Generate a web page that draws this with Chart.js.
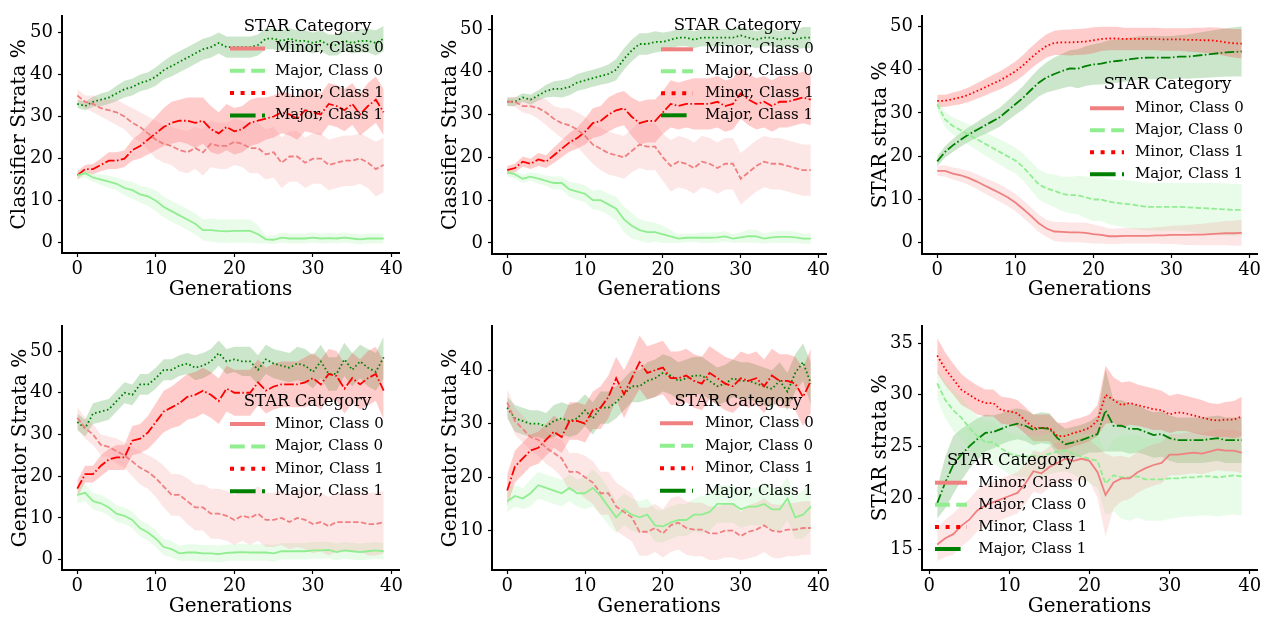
<!DOCTYPE html>
<html><head><meta charset="utf-8">
<script src="https://cdn.jsdelivr.net/npm/chart.js@4.4.1/dist/chart.umd.min.js"></script>
<style>
html,body{margin:0;padding:0;background:#fff;}
#wrap{position:relative;width:1268px;height:620px;overflow:hidden;background:#fff;}
canvas{position:absolute;}
</style></head><body><div id="wrap"></div>
<script>
// ---------- shared categories / labels ----------
const gens = [0,1,2,3,4,5,6,7,8,9,10,11,12,13,14,15,16,17,18,19,20,21,22,23,24,25,26,27,28,29,30,31,32,33,34,35,36,37,38,39];
const gensFrom1 = [1,2,3,4,5,6,7,8,9,10,11,12,13,14,15,16,17,18,19,20,21,22,23,24,25,26,27,28,29,30,31,32,33,34,35,36,37,38,39];
const xTicks = [0,10,20,30,40];
const yTicksPct = [0,10,20,30,40,50];
const yTicksGenB = [10,20,30,40];
const yTicksStarB = [15,20,25,30,35];
const xTitle = 'Generations';
const legendTitle = 'STAR Category';
const seriesNames = ['Minor, Class 0','Major, Class 0','Minor, Class 1','Major, Class 1'];

// ---------- Panel 1 : Classifier (top-left) ----------
const p1MinorC0 = [35,33.5,33,32,31.5,31,30,28.5,27.5,26,24.5,23.5,23,22,21.5,22.5,21.5,23.5,23,23,24,23.5,22.5,22.5,21,21.5,19,20.5,20.5,19,20,20,18.5,19,19.5,19.5,20,19,17.5,18.5];
const p1MinorC0Err = [1.5,1.5,2,2,2.5,3,3,3.5,3.5,4,4.5,4.5,4.5,5,5,5,5.5,5.5,5.5,5.5,5.5,5.5,6,6,6,6,6,6,6,6,6,6,6,6,6,6,6,6,6.5,6.5];
const p1MajorC0 = [16,16.5,15.5,15,14.5,14,13,12.5,11.5,11,10,8.5,7.5,6.5,5.5,4.5,3,3,2.8,2.7,2.8,2.8,2.8,2,0.8,0.7,1.2,1,1,1,1.2,1,1.1,1,1.2,1,0.8,1,1,1];
const p1MajorC0Err = [1,1,1,1.2,1.5,1.5,1.8,2,2,2.2,2.5,2.5,2.5,2.5,2.5,2.5,2.5,2.8,2.8,2.8,2.8,2.8,2.8,2.2,1,1,1.2,1.2,1.2,1.2,1.2,1.2,1.2,1.2,1.2,1.2,1.2,1.2,1.2,1.2];
const p1MinorC1 = [16,17.5,17.5,18.5,19.5,19.5,20,22,23,24.5,26,27.5,28.5,29,29,28.5,29,27,26,27.5,26.5,27,28.5,29,29.5,30,31,30.5,29.5,31.5,31,30.5,33,32.5,31.5,33,30.5,32.5,34,31];
const p1MinorC1Err = [1,1,1.2,1.5,2,2,2,2.5,3,3.5,4,4.5,5,5,5.5,6,5.5,5.5,5,5.5,5.5,5.5,5.5,5.5,5,5,5,5,5,5,5,5,5,5,5,5,5,5.5,5.5,5.5];
const p1MajorC1 = [33,32.5,33.5,34,34.5,35.5,36.5,37,38,38.5,39.5,41,42,43,44,45,46,46.5,47.5,46.5,46.5,46.5,46.5,47,48.5,48.5,48,48.5,48,48,47.5,48,47,47,48,47.5,48,48,47.5,48.5];
const p1MajorC1Err = [1,1,1.2,1.5,1.5,1.8,2,2,2,2,2.2,2.2,2.5,2.5,2.5,2.5,2.5,2.5,2.5,2.5,2.5,2.5,2.5,2.5,2.5,2.5,2.5,2.5,2.5,2.5,2.5,2.5,2.5,2.5,2.5,2.5,2.8,2.8,3,3];

// ---------- Panel 2 : Classifier (top-middle) ----------
const p2MinorC0 = [33,33,32,32,31.5,30.5,29,28,27.5,26.5,25,23,22,21,20.5,20,21.5,23,22.5,22.5,20,18,19,18.5,17.5,19,18.5,17.5,18.5,18.5,15,16.5,18,19,18.5,18.5,18,17.5,17,17];
const p2MinorC0Err = [1,1.2,1.5,2,2.5,3,3,3.5,4,4,4.5,4.5,5,5,5,5,5,5.5,5.5,5.5,5.5,6,6,6,6,6,6,6,6,6,6,6,6,6,6,6,6,6,6,6];
const p2MajorC0 = [16.5,16,15,15.5,15,14.5,14,14,12.5,12,11.5,10,10,9,8,5.5,4,3,2.5,2.5,2,1.5,1,1.2,1.2,1.2,1.2,1.3,1.5,1,1.3,1.6,1.5,1,1.3,1.4,1.4,1.3,1,1];
const p2MajorC0Err = [1,1,1,1,1.2,1.2,1.5,1.5,1.8,2,2,2.2,2.5,2.5,2.8,3,3,2.5,2.5,2.2,2,1.5,1,1,1,1.2,1.2,1.2,1.2,1,1.2,1.5,1.5,1.2,1.3,1.4,1.4,1.3,1.2,1.2];
const p2MinorC1 = [17,17.5,19,18.5,19.5,19,20.5,22,23.5,24.5,26,28,28.5,30,31,31.5,29.5,28,28.5,28.5,30.5,32.5,32,32.5,32.5,32.5,32.5,33,32,32.5,35,33.5,32.5,33,32,33,33,33.5,34,33.5];
const p2MinorC1Err = [1,1,1.2,1.2,1.5,1.5,1.8,2,2.2,2.5,3,3.5,3.5,4,4,4,4.5,5,5,5,5,5.5,5.5,5.5,6,6,6,6,6,6,6,6,6,6,6,6,6,6,6,6];
const p2MajorC1 = [33,33,34,33.5,34.5,35.5,36,36,36.5,37.5,38,38.5,39,39.5,40.5,43,45,46.5,46.5,47,47,47.5,48,48,47.5,48,48,48,48,48,48.5,48,47.5,48,48,47.5,48,47.5,48,48];
const p2MajorC1Err = [1,1,1,1.2,1.2,1.5,1.8,2,2,2,2,2,2,2.2,2.5,2.5,2.5,2.5,2.5,2.5,2.2,2,2,2,2,2,2,2,2,2,2,2,2,2,2,2,2,2.2,2.5,2.5];

// ---------- Panel 3 : STAR strata (top-right) ----------
const p3MinorC0 = [16.6,16.6,16,15.6,15,14.2,13.3,12.4,11.5,10.5,9.3,7.8,6.2,4.5,3.3,2.6,2.5,2.4,2.4,2.3,2,1.8,1.5,1.5,1.6,1.6,1.6,1.6,1.7,1.7,1.8,1.8,1.8,1.9,1.9,2,2.1,2.2,2.2,2.3];
const p3MinorC0Err = [1.2,1.3,1.4,1.5,1.6,1.7,1.8,1.9,2,2,2,2,2,2,2,2.2,2.3,2.3,2.3,2.3,2.2,2,1.8,1.8,1.8,1.8,1.8,1.8,1.9,2,2.1,2.2,2.3,2.4,2.5,2.6,2.7,2.8,2.9,3];
const p3MajorC0 = [32,28.5,27,26,25,24,23,22,21,20,19,17.5,15.5,13.5,12.5,12,11.3,11,11,10.5,10,10,9.5,9.2,9,8.8,8.5,8.3,8.3,8.3,8.3,8.3,8.2,8.1,8,7.9,7.8,7.7,7.6,7.6];
const p3MajorC0Err = [1.5,1.8,2,2.2,2.4,2.5,2.7,2.8,3,3,3,3.2,3.3,3.5,3.5,3.8,4,4.2,4.5,4.8,5,5,5.2,5.3,5.5,5.5,5.5,5.5,5.5,5.5,5.5,5.5,5.6,5.7,5.8,5.9,6,6,6,6];
const p3MinorC1 = [32.8,32.8,33.2,33.6,34.2,35,35.8,36.7,37.5,38.5,39.6,41,42.7,44.2,45.5,46.2,46.3,46.3,46.4,46.5,46.8,47.1,47.2,47.2,47.1,47.1,47.1,47.1,47.1,47,47,47,46.9,46.9,46.8,46.8,46.6,46.3,46.1,46];
const p3MinorC1Err = [1.4,1.4,1.5,1.6,1.7,1.8,1.9,2,2.1,2.2,2.3,2.4,2.5,2.6,2.7,2.8,2.9,3,3,3,3,2.8,2.7,2.7,2.6,2.6,2.6,2.6,2.6,2.6,2.6,2.6,2.7,2.8,2.9,3,3.1,3.2,3.3,3.4];
const p3MajorC1 = [18.8,21,22.5,23.8,25,26,27,28,29,30.5,32,33.5,35.3,37,38.2,39,39.7,40.3,40.2,40.8,41.2,41.4,41.8,42,42.2,42.5,42.7,42.8,42.8,42.8,42.8,43,43,43.2,43.4,43.6,43.8,44,44.1,44.2];
const p3MajorC1Err = [1.2,1.3,1.5,1.6,1.7,1.8,2,2.1,2.2,2.3,2.5,2.7,3,3.2,3.5,3.8,4,4.2,4.5,4.6,4.7,4.8,5,5,5,5,5,5,5,5,5,5,5.1,5.2,5.3,5.4,5.5,5.6,5.7,5.8];

// ---------- Panel 4 : Generator (bottom-left) ----------
const p4MinorC0 = [34,31.5,30,27.5,27,26,25,23.5,22,21,19.5,17.5,15.5,15.5,14,12.5,12.5,11,11,10.5,9.5,10.5,10,11,9.5,9.5,10,9,10,9.5,8.5,9,8,9,9,9,9,8.5,8.5,9];
const p4MinorC0Err = [2.5,2.5,2.5,2.5,2.5,3,3,3.5,4,4,4.5,5,5,5,5.5,5.5,5.5,6,6,6,6,6,6.5,6.5,6.5,6.5,6.5,6.5,7,7,7,7,7,7,7,7,7,7.5,7.5,7.5];
const p4MajorC0 = [15.5,16,14,13.5,12.5,11,10.5,9.5,7.5,6.5,5,3,2.5,1.5,1.7,1.7,1.5,1.5,1.3,1.6,1.7,1.8,1.7,1.7,1.7,1.5,2,2,2,2,2.2,2.2,2.3,1.8,2.2,2,1.8,2,2.2,2];
const p4MajorC0Err = [2,2,2,2,2,2,2,2,2,2,2,2,2,1.8,2,2,2,2,2,2,2,2,2,2,2,2,2,2,2,2,2,2,2,2,2,2,2,2,2,2];
const p4MinorC1 = [17,20.5,20.5,22.5,24,24.5,24.5,28.5,29,30.5,33,35.5,36.5,37.5,39,39.5,40.5,39.5,38,41,40,40,40,42.5,40.5,41.5,42,42,42,42.5,43.5,42,44.5,44,41,43.5,42,43.5,44.5,40.5];
const p4MinorC1Err = [2,2,2,2.5,2.5,3,3,3.5,3.5,4,4.5,5,5,5.5,5.5,5.5,5.5,5.5,5.5,5.5,5.5,5.5,5.5,5.5,5.5,5.5,5.5,5.5,5.5,6,6,6,6,6,6,6,6,6.5,6.5,7];
const p4MajorC1 = [33,31.5,35,35.5,36,38,40,39.5,42,42,43.5,45.5,45.5,46.5,47,46,46.5,47.5,49.5,47.5,48,47.5,47.5,45.5,48,47,46.5,46,47,46.5,45,47.5,44.5,44.5,48,45.5,47.5,46,45,48.5];
const p4MajorC1Err = [2,2,2.5,2.5,2.5,2.5,2.5,2.5,2.5,2.5,2.5,2.5,2.5,2.5,2.5,3,3,3,3,3,3,3.5,3.5,3.5,3.5,3.5,3.5,3.5,4,4,4,4,4,4,4,4,4,4.5,4.5,5];

// ---------- Panel 5 : Generator (bottom-middle) ----------
const p5MinorC0 = [34,30.5,29,27.5,27,25.5,24.5,23.5,21,21,20,19,17,17,14.5,13.5,12.5,9.8,9.8,10.5,9.5,11,11.5,10.5,10.2,10.2,9.5,9.5,10,10,9,9.8,10.2,11,10,9.8,10.2,10.2,10.5,10.5];
const p5MinorC0Err = [2.5,2.5,2.5,2.5,3,3,3,3.5,3.5,3.5,4,4,4,4,4.5,4.5,4.5,4.5,4.5,4.5,4.5,5,5,5,5,5,5,5,5,5,4.5,5,5,5,5,5,5,5,5,5];
const p5MajorC0 = [15.5,16.5,16,17,18.5,18,17.5,17,18,17,17,18,16.5,14.5,12.5,14,13,12.5,13,11,10.8,11.5,12,12,13,13,13.5,15,15,15,14,14.5,14.5,15,14,14,16,12.5,13,14.5];
const p5MajorC0Err = [2,2,2,2.5,2.5,2.5,2.5,2.5,2.5,2.5,3,3.5,3.5,3.5,3,3,3,3,3,3,3,3,3,3,3,3.5,3.5,3.5,3.5,3.5,3.5,3.5,3.5,4,4,4,4,4,4.5,4.5];
const p5MinorC1 = [17.5,22,23.5,25,25.5,27,28.5,27.5,30.5,30.5,30,32.5,33,35,38.5,35.5,38.5,41.5,39.5,40,40.5,38.5,38.5,39,38,37.5,39.5,38.5,37.5,37,38.5,38,38.5,37,39,38,38,37.5,35,38];
const p5MinorC1Err = [3,3,3,3,3,3,3,3,3.5,3.5,3.5,3.5,4,4,4,4.5,4.5,5,5,5,5,5,5,5,5,5,5,5,5,5,5,5,5,5,5,5,5,5,5.5,6];
const p5MajorC1 = [33,31,30.5,30,30,29.5,30.5,31,30.5,31,32.5,31,33,33,34,35.5,37,37,38,38.5,39.5,39,38,38.5,39,39,38,37,37.5,38.5,38,38,37.5,37,36.5,38,36,39.5,41.5,37.5];
const p5MajorC1Err = [2,2.5,2.5,2.5,2.5,2.5,3,3,3,3,3,3,3,3,3,3,3,3,3.5,3.5,3.5,3.5,3.5,3.5,3.5,3.5,3.5,3.5,3.5,3.5,3.5,3.5,3.5,3.5,3.5,3.5,3.5,3.5,3.5,4];

// ---------- Panel 6 : STAR strata (bottom-right), generations 1..39 ----------
const p6MinorC0 = [15.5,16.1,16.5,17.3,17.9,18.8,19.3,19.6,19.9,20.2,20.5,21.4,22.6,22.4,23,23.4,23.8,23.6,23.8,23.6,22.5,20.3,21.5,21.9,21.9,22.5,22.9,23.2,23.4,24.2,24.2,24.3,24.4,24.3,24.5,24.7,24.6,24.6,24.4];
const p6MinorC0Err = [1.6,1.8,2,2,2,2,2,2,2,2,2,2,2,2,2,2,2,2,2,2,2.5,4,2.5,2.2,2,2,2,2,2,2,2,2,2,2,2,2,2,2,2];
const p6MajorC0 = [31.1,29.5,28.5,27.8,26.8,26,25.4,25.4,24.8,24.3,24.1,24,24.1,24,24.3,24.5,24.6,24.3,24,23.8,23.6,21.4,22.2,22,22,22.1,21.8,21.8,21.8,21.9,21.9,22,22,22.1,22.1,22,22.1,22.2,22.1];
const p6MajorC0Err = [1.5,1.8,2,2,2,2,2,2,2,2,2,2,2,2,2,2,2,2,2.2,2.4,2.6,3,3.5,4,4.2,4,4,4,4,3.9,3.8,3.8,3.8,3.8,3.8,3.8,3.8,3.8,3.8];
const p6MinorC1 = [33.8,32.5,31.5,30.5,30,29.5,29.2,29.2,28.5,28.4,28.2,27.5,26.8,26.8,26.8,26,26,26.3,26.5,26.8,27.5,30,29.5,29,29.2,29,28.8,28.6,28.5,28.1,28.3,28.2,28,27.8,27.6,27.5,27.6,27.6,27.9];
const p6MinorC1Err = [1.7,1.6,1.5,1.5,1.4,1.4,1.3,1.3,1.3,1.3,1.3,1.3,1.3,1.3,1.3,1.3,1.3,1.3,1.3,1.3,1.5,2.8,2.2,2.2,2.1,2,2,2,1.9,1.8,1.8,1.7,1.7,1.7,1.6,1.6,1.7,1.8,1.9];
const p6MajorC1 = [19.5,21.5,23.2,24.2,25,25.7,26.3,26.4,26.7,27,27.2,27,26.6,26.8,26.7,25.8,25.2,25.4,25.6,25.9,26.2,28.5,27,27,26.7,26.7,26.4,26.1,26.2,25.8,25.6,25.6,25.6,25.6,25.7,25.8,25.6,25.6,25.6];
const p6MajorC1Err = [1.5,2.5,2.8,2.5,2.2,2,1.8,1.6,1.5,1.5,1.5,1.5,1.5,1.5,1.5,1.5,1.5,1.5,1.5,1.5,1.8,4,2.5,2.5,2.4,2.3,2.2,2.2,2.2,2.2,2.2,2.2,2.2,2.2,2.2,2.2,2.2,2.2,2.2];

// ---------- styles ----------
const FONT = '"DejaVu Serif", "Liberation Serif", serif';
const lineColors = ['#F08080', '#90EE90', '#FF0000', '#008000'];
const bandColors = ['rgba(240,128,128,0.2)', 'rgba(144,238,144,0.2)', 'rgba(255,0,0,0.2)', 'rgba(0,128,0,0.2)'];
const DASH = { solid: [], dashed: [5.5, 2.4], dotted: [1.6, 2.5], dashdot: [9.6, 2.4, 1.6, 2.4] };
const LEG_DASH = { solid: [], dashed: [14.8, 6.4], dotted: [4, 6.6], dashdot: [25.6, 6.4, 4, 6.4] };
const legendStyles = ['solid', 'dashed', 'dotted', 'dashdot'];
const stylesA = ['dashed', 'solid', 'dashdot', 'dotted'];   // panels drawn with shifted styles
const stylesB = ['solid', 'dashed', 'dotted', 'dashdot'];

const panels = [
  { box:[0,0,425,310], area:{l:62,r:399,t:5,b:253}, x:[-1.95,40.95], y:[-2.45,53.95], yTicks:yTicksPct,
    yTitle:'Classifier Strata %', yTitlePad:8, xTitlePad:8, gens:gens, styles:stylesA,
    series:[[p1MinorC0,p1MinorC0Err],[p1MajorC0,p1MajorC0Err],[p1MinorC1,p1MinorC1Err],[p1MajorC1,p1MajorC1Err]],
    legend:{cx:307.5, ty:27, y0:48.5, dy:22.3, hx0:230, hx1:265, tx:275} },
  { box:[425,0,425,310], area:{l:492,r:826,t:5,b:254}, x:[-1.95,40.95], y:[-2.6,53.1], yTicks:yTicksPct,
    yTitle:'Classifier Strata %', yTitlePad:14, xTitlePad:8, gens:gens, styles:stylesA,
    series:[[p2MinorC0,p2MinorC0Err],[p2MajorC0,p2MajorC0Err],[p2MinorC1,p2MinorC1Err],[p2MajorC1,p2MajorC1Err]],
    legend:{cx:312.5, ty:26, y0:49.3, dy:22, hx0:236, hx1:268, tx:280} },
  { box:[850,0,418,310], area:{l:922,r:1257,t:5,b:254}, x:[-1.95,40.95], y:[-2.6,52.45], yTicks:yTicksPct,
    yTitle:'STAR strata %', yTitlePad:19, xTitlePad:8, gens:gens, styles:stylesB,
    series:[[p3MinorC0,p3MinorC0Err],[p3MajorC0,p3MajorC0Err],[p3MinorC1,p3MinorC1Err],[p3MajorC1,p3MajorC1Err]],
    legend:{cx:317.5, ty:85, y0:108.3, dy:22, hx0:240, hx1:274, tx:285} },
  { box:[0,310,425,310], area:{l:62,r:399,t:322,b:570}, x:[-1.95,40.95], y:[-2.5,56.05], yTicks:yTicksPct,
    yTitle:'Generator Strata %', yTitlePad:9, xTitlePad:1.5, gens:gens, styles:stylesA,
    series:[[p4MinorC0,p4MinorC0Err],[p4MajorC0,p4MajorC0Err],[p4MinorC1,p4MinorC1Err],[p4MajorC1,p4MajorC1Err]],
    legend:{cx:307.5, ty:91.7, y0:114, dy:22.4, hx0:230, hx1:265, tx:275} },
  { box:[425,310,425,310], area:{l:492,r:826,t:322,b:570}, x:[-1.95,40.95], y:[2.65,48.3], yTicks:yTicksGenB,
    yTitle:'Generator Strata %', yTitlePad:14, xTitlePad:1.5, gens:gens, styles:stylesA,
    series:[[p5MinorC0,p5MinorC0Err],[p5MajorC0,p5MajorC0Err],[p5MinorC1,p5MinorC1Err],[p5MajorC1,p5MajorC1Err]],
    legend:{cx:313.3, ty:91.7, y0:113.3, dy:22.5, hx0:235, hx1:268, tx:280} },
  { box:[850,310,418,310], area:{l:922,r:1257,t:322,b:570}, x:[-0.9,40.9], y:[13.03,36.68], yTicks:yTicksStarB,
    yTitle:'STAR strata %', yTitlePad:19, xTitlePad:1.5, gens:gensFrom1, styles:stylesB,
    series:[[p6MinorC0,p6MinorC0Err],[p6MajorC0,p6MajorC0Err],[p6MinorC1,p6MinorC1Err],[p6MajorC1,p6MajorC1Err]],
    legend:{cx:160.8, ty:150.7, y0:172.7, dy:22.1, hx0:85, hx1:117, tx:128.3} }
];

const legendPlugin = {
  id: 'panelLegend',
  afterDraw(chart) {
    const L = chart.options.plugins.panelLegend;
    if (!L) return;
    const ctx = chart.ctx;
    ctx.save();
    ctx.fillStyle = '#000';
    ctx.textBaseline = 'middle';
    ctx.textAlign = 'center';
    ctx.font = '16.5px ' + FONT;
    ctx.fillText(legendTitle, L.cx, L.ty);
    seriesNames.forEach((name, i) => {
      const y = L.y0 + i * L.dy;
      ctx.beginPath();
      ctx.setLineDash(LEG_DASH[legendStyles[i]]);
      ctx.lineWidth = 4;
      ctx.lineCap = 'butt';
      ctx.strokeStyle = lineColors[i];
      ctx.moveTo(L.hx0, y);
      ctx.lineTo(L.hx1, y);
      ctx.stroke();
      ctx.setLineDash([]);
      ctx.textAlign = 'left';
      ctx.font = '15px ' + FONT;
      ctx.fillStyle = '#000';
      ctx.fillText(name, L.tx, y);
    });
    ctx.restore();
  }
};

const wrap = document.getElementById('wrap');
panels.forEach((p) => {
  const [bx, by, bw, bh] = p.box;
  const cv = document.createElement('canvas');
  cv.width = bw; cv.height = bh;
  cv.style.left = bx + 'px'; cv.style.top = by + 'px';
  cv.style.width = bw + 'px'; cv.style.height = bh + 'px';
  wrap.appendChild(cv);

  const datasets = [];
  p.series.forEach(([mean, err], i) => {
    datasets.push({
      data: p.gens.map((g, k) => ({ x: g, y: mean[k] + err[k] })),
      borderWidth: 0, pointRadius: 0, fill: '+1', backgroundColor: bandColors[i], order: 2
    });
    datasets.push({
      data: p.gens.map((g, k) => ({ x: g, y: mean[k] - err[k] })),
      borderWidth: 0, pointRadius: 0, fill: false, order: 2
    });
    datasets.push({
      data: p.gens.map((g, k) => ({ x: g, y: mean[k] })),
      borderColor: lineColors[i], borderWidth: 1.8, borderDash: DASH[p.styles[i]],
      pointRadius: 0, fill: false, order: 1, borderCapStyle: 'butt'
    });
  });

  const tickFont = { family: FONT, size: 18 };
  const titleFont = { family: FONT, size: 20 };
  new Chart(cv, {
    type: 'line',
    data: { datasets },
    plugins: [legendPlugin],
    options: {
      responsive: false, animation: false, devicePixelRatio: 1,
      layout: { padding: { left: 0, bottom: 0, top: p.area.t - by, right: bx + bw - p.area.r } },
      plugins: { legend: { display: false }, tooltip: { enabled: false }, panelLegend: p.legend },
      elements: { line: { tension: 0 } },
      scales: {
        x: {
          type: 'linear', min: p.x[0], max: p.x[1],
          afterBuildTicks: (s) => { s.ticks = xTicks.map(v => ({ value: v })); },
          afterFit: (s) => { s.height = by + bh - p.area.b; },
          grid: { display: true, drawOnChartArea: false, drawTicks: true, tickLength: 4, tickWidth: 1.2, tickColor: '#000' },
          border: { display: true, color: '#000', width: 2 },
          ticks: { font: tickFont, color: '#000', padding: 2, maxRotation: 0, autoSkip: false },
          title: { display: true, text: xTitle, font: titleFont, color: '#000', padding: { top: 0, bottom: p.xTitlePad } }
        },
        y: {
          type: 'linear', min: p.y[0], max: p.y[1],
          afterBuildTicks: (s) => { s.ticks = p.yTicks.map(v => ({ value: v })); },
          afterFit: (s) => { s.width = p.area.l - bx; },
          grid: { display: true, drawOnChartArea: false, drawTicks: true, tickLength: 4, tickWidth: 1.2, tickColor: '#000' },
          border: { display: true, color: '#000', width: 2 },
          ticks: { font: tickFont, color: '#000', padding: 5, autoSkip: false },
          title: { display: true, text: p.yTitle, font: titleFont, color: '#000', padding: { top: p.yTitlePad, bottom: 0 } }
        }
      }
    }
  });
});
</script>
</body></html>
